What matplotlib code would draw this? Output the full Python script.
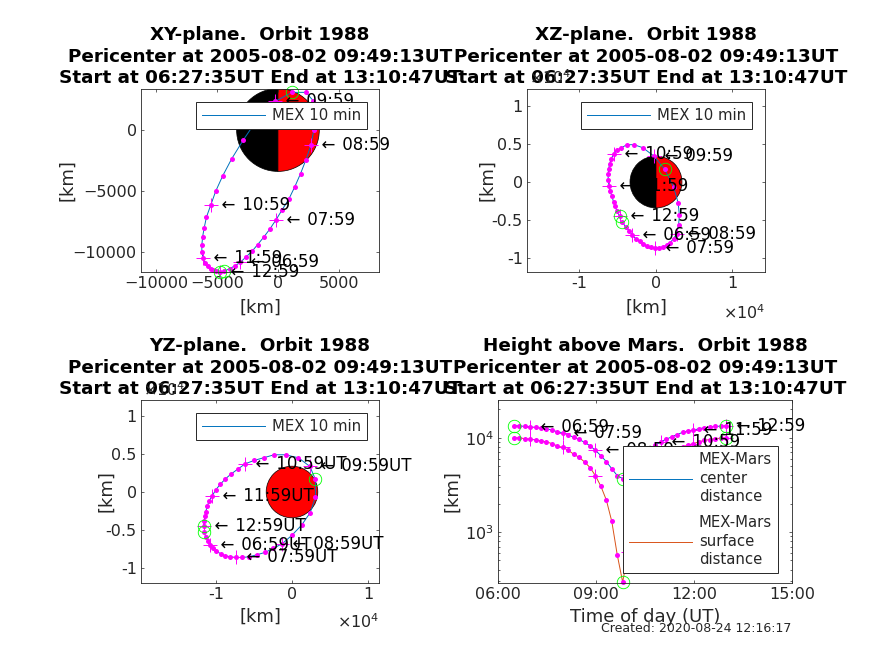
#!/usr/bin/env python

import matplotlib
matplotlib.use("Agg")
import matplotlib.pyplot as plt
from matplotlib.patches import Wedge, Circle

### every 10 min from start of the orbit
times = ["06:29", "06:39", "06:49", "06:59", "07:09", "07:19", "07:29", "07:39", "07:49", "07:59",
         "08:09", "08:19", "08:29", "08:39", "08:49", "08:59", "09:09", "09:19", "09:29", "09:39",
         "09:49", "09:59", "10:09", "10:19", "10:29", "10:39", "10:49", "10:59", "11:09", "11:19",
         "11:29", "11:39", "11:49", "11:59", "12:09", "12:19", "12:29", "12:39", "12:49", "12:59"]

x_km = [-4395, -3960, -3495, -3085, -2620, -2130, -1665, -1175, -680, -165,
        355, 900, 1390, 1855, 2295, 2700, 2950, 3060, 2895, 2295,
        1145, -220, -1720, -2865, -3795, -4530, -5105, -5515, -5870, -6060,
        -6195, -6250, -6250, -6140, -6005, -5760, -5540, -5325, -5105, -4720]
y_km = [-11575, -11360, -11110, -10840, -10400, -9940, -9390, -8790, -8135, -7370,
        -6525, -5650, -4640, -3575, -2455, -1255, 0, 1255, 2400, 3085,
        3085, 2350, 845, -845, -2350, -3740, -4995, -6140, -7125, -8025,
        -8790, -9445, -10020, -10510, -10890, -11165, -11355, -11465, -11550, -11630]
z_km = [-5245, -5900, -6380, -6990, -7430, -7780, -8130, -8390, -8520, -8610,
        -8610, -8520, -8260, -7955, -7430, -6775, -5680, -4370, -2710, -655,
        1660, 3365, 4500, 4895, 4895, 4500, 4150, 3715, 3015, 2360,
        1705, 1005, 305, -525, -1180, -1880, -2620, -3190, -3845, -4500]

center_km = [13390, 13390, 13170, 13070, 12860, 12650, 12450, 12050, 11570, 11290,
             10760, 10080, 9600, 8930, 8230, 7350, 6450, 5580, 4690, 3970,
             3690, 4011, 4890, 5735, 6680, 7490, 8320, 9100, 9600, 10240,
             10820, 11390, 11760, 12050, 12450, 12760, 12960, 13170, 13280, 13390]
surface_km = [9994, 9994, 9774, 9674, 9464, 9254, 9054, 8654, 8174, 7894,
              7364, 6684, 6204, 5534, 4834, 3954, 3054, 2184, 1297, 575,
              294, 615, 1494, 2339, 3284, 4094, 4924, 5704, 6204, 6844,
              7424, 7994, 8364, 8654, 9054, 9364, 9564, 9774, 9884, 9994]

hour_marks = ["06:59", "07:59", "08:59", "09:59", "10:59", "11:59", "12:59"]
circle_marks = ["06:29", "09:49", "12:59"]

MARS_RADIUS = 3396.

orbit_str = "Orbit 1988"
title_tail = "Pericenter at 2005-08-02 09:49:13UT\nStart at 06:27:35UT End at 13:10:47UT"

W, H = 874., 655.
DARK = "0.15"
BLUE = (0, 0.447, 0.741)
ORANGE = (0.85, 0.325, 0.098)

def hours(t) :
    return int(t[:2]) + int(t[3:])/60.

def make_axes(l, r, t, b) :
    ax = fig.add_axes([l/W, 1-b/H, (r-l)/W, (b-t)/H])
    ax.tick_params(axis='both', which='both', direction='in', top=True, bottom=True, left=True, right=True,
                   length=2.4, width=0.5, color=DARK, labelcolor=DARK, labelsize=11.5, pad=3)
    ax.tick_params(axis='both', which='minor', length=1.4)
    for s in ax.spines.values() :
        s.set_linewidth(0.6)
        s.set_color(DARK)
    return ax

def draw_track(ax, xs, ys, color=BLUE, label=None) :
    line, = ax.plot(xs, ys, '-', color=color, lw=0.7, label=label)
    ax.plot(xs, ys, 'o', color='magenta', ms=3.6, mew=0, clip_on=False)
    ix = [times.index(t) for t in hour_marks]
    ax.plot([xs[i] for i in ix], [ys[i] for i in ix], '+', color='magenta', ms=9.5, mew=0.7, clip_on=False)
    ix = [times.index(t) for t in circle_marks]
    ax.plot([xs[i] for i in ix], [ys[i] for i in ix], 'o', mfc='none', mec=(0, 1, 0), ms=9, mew=0.6, clip_on=False)
    return line

def hour_labels(ax, xs, ys, suffix="") :
    for t in hour_marks :
        i = times.index(t)
        ax.text(xs[i], ys[i], "  \u2190\u200a %s%s"%(t, suffix), fontsize=12, va='center', ha='left', color='k')

def put_legend(ax, r, t, **kw) :
    leg = ax.legend(loc='upper right', bbox_to_anchor=(r/W, 1-t/H), bbox_transform=fig.transFigure,
                    borderaxespad=0, fancybox=False, framealpha=1, edgecolor=DARK, fontsize=10.7,
                    handlelength=4.2, handletextpad=0.5, borderpad=0.4, **kw)
    leg.get_frame().set_linewidth(0.7)
    for txt in leg.get_texts() :
        txt.set_color(DARK)
        txt.set_linespacing(1.3)
    leg.set_zorder(100)
    return leg

def xy_labels(ax, xl, xl_px, yl_px, l, r, t, b) :
    ax.set_xlabel(xl, fontsize=13, color=DARK)
    ax.set_ylabel("[km]", fontsize=13, color=DARK)
    ax.xaxis.set_label_coords((r+l)/2/W, 1-xl_px/H, transform=fig.transFigure)
    ax.yaxis.set_label_coords(yl_px/W, 1-(t+b)/2/H, transform=fig.transFigure)
    ax.xaxis.label.set_va('center')
    ax.yaxis.label.set_va('center')

def set_title(ax, head) :
    ax.set_title("%s  %s\n%s"%(head, orbit_str, title_tail), fontsize=13.25, fontweight='bold', pad=4, linespacing=1.28)

def exponent(ax, px, py, ha) :
    fig.text(px/W, 1-py/H, r"$\times10^{4}$", fontsize=11.5, color=DARK, ha=ha, va='center')

fig = plt.figure(figsize=(W/100, H/100), dpi=100)

### XY plane
box = (141, 379, 89, 272)
ax = make_axes(*box)
ax.add_patch(Wedge((0, 0), MARS_RADIUS, 90, 270, fc='k', ec='k', lw=0.5))
ax.add_patch(Wedge((0, 0), MARS_RADIUS, -90, 90, fc='r', ec='k', lw=0.5))
draw_track(ax, x_km, y_km, label="MEX 10 min")
hour_labels(ax, x_km, y_km)
ax.set_xlim(-11250, 8300)
ax.set_ylim(-11640, 3360)
ax.set_xticks([-10000, -5000, 0, 5000])
ax.set_yticks([-10000, -5000, 0])
set_title(ax, "XY-plane.")
xy_labels(ax, "[km]", 308, 67, *box)
put_legend(ax, 367, 102)

### XZ plane
box = (527, 765, 89, 272)
ax = make_axes(*box)
ax.add_patch(Wedge((0, 0), MARS_RADIUS, 90, 270, fc='k', ec='k', lw=0.5))
ax.add_patch(Wedge((0, 0), MARS_RADIUS, -90, 90, fc='r', ec='k', lw=0.5))
draw_track(ax, x_km, z_km, label="MEX 10 min")
hour_labels(ax, x_km, z_km)
ax.set_xlim(-16860, 14250)
ax.set_ylim(-11800, 12200)
ax.set_xticks([-10000, 0, 10000])
ax.set_xticklabels(["-1", "0", "1"])
ax.set_yticks([-10000, -5000, 0, 5000, 10000])
ax.set_yticklabels(["-1", "-0.5", "0", "0.5", "1"])
set_title(ax, "XZ-plane.")
xy_labels(ax, "[km]", 308, 487, *box)
put_legend(ax, 752, 102)
exponent(ax, 765, 313, 'right')
exponent(ax, 529, 78, 'left')

### YZ plane
box = (141, 379, 400, 583)
ax = make_axes(*box)
ax.add_patch(Circle((0, 0), MARS_RADIUS, fc='r', ec='k', lw=0.5))
draw_track(ax, y_km, z_km, label="MEX 10 min")
hour_labels(ax, y_km, z_km, suffix="UT")
ax.set_xlim(-19870, 11450)
ax.set_ylim(-11970, 12100)
ax.set_xticks([-10000, 0, 10000])
ax.set_xticklabels(["-1", "0", "1"])
ax.set_yticks([-10000, -5000, 0, 5000, 10000])
ax.set_yticklabels(["-1", "-0.5", "0", "0.5", "1"])
set_title(ax, "YZ-plane.")
xy_labels(ax, "[km]", 617, 106, *box)
put_legend(ax, 367, 413)
exponent(ax, 379, 622, 'right')
exponent(ax, 143, 390, 'left')

### Height above Mars
box = (498, 792, 400, 583)
ax = make_axes(*box)
thours = [hours(t) for t in times]
draw_track(ax, thours, center_km, label="MEX-Mars\ncenter\ndistance")
draw_track(ax, thours, surface_km, color=ORANGE, label="MEX-Mars\nsurface\ndistance")
hour_labels(ax, thours, center_km)
ax.set_yscale('log')
ax.set_xlim(6, 15)
ax.set_ylim(10**2.46, 10**4.40)
ax.set_xticks([6, 9, 12, 15])
ax.set_xticklabels(["06:00", "09:00", "12:00", "15:00"])
set_title(ax, "Height above Mars.")
xy_labels(ax, "Time of day (UT)", 617, 452, *box)
put_legend(ax, 778, 446, labelspacing=0.75)

fig.text(791/W, 1-629/H, "Created: 2020-08-24 12:16:17", fontsize=9, color=DARK, ha='right', va='center')

fig.savefig("out.png", dpi=100)
